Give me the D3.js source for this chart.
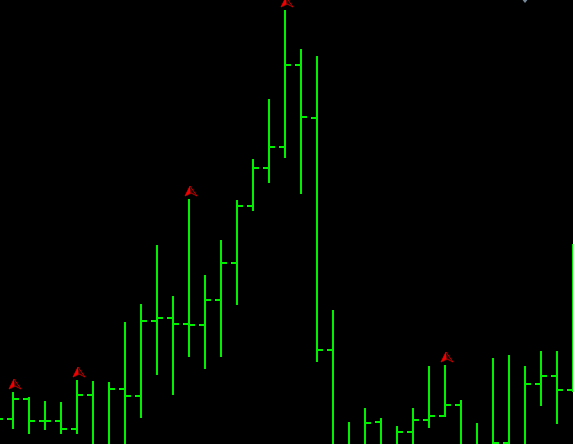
<!DOCTYPE html>
<html lang="en">
<head>
    <meta charset="UTF-8">
    <title>OHLC bars</title>
    <script src="https://d3js.org/d3.v7.min.js"></script>
    <style>
        html, body { margin: 0; padding: 0; background: #000; overflow: hidden; }
        svg { display: block; }
    </style>
</head>
<body>
    <div id="chart"></div>
    <script>
        // values, in chart units (0 = bottom edge), first bar sits off screen
        const opens = [30, 25, 45, 23, 23, 15, 49, -5, 55, 48, 123, 126, 120, 119, 144, 181, 238, 276, 297, 379, 326, 94, -12, -8, 22, -6, 12, 24, 28, 39, -5, -10, 1, -8, 60, 68, 54];
        const highs = [35, 52, 47, 43, 42, 64, 63, 62, 122, 140, 199, 148, 245, 169, 204, 244, 285, 345, 434, 395, 388, 134, 22, 36, 26, 18, 36, 78, 79, 44, 21, 86, 89, 78, 93, 93, 200];
        const lows = [5, 15, 10, 14, 10, 10, -30, -15, -25, 26, 69, 49, 87, 75, 87, 139, 233, 261, 286, 250, 82, -40, -20, -25, -15, -20, -10, 16, 27, -20, -15, -30, -25, -10, 38, 20, 52];
        const closes = [25, 45, 23, 23, 15, 49, -5, 55, 48, 123, 126, 120, 119, 144, 181, 238, 276, 297, 379, 327, 94, -12, -8, 21, -6, 12, 24, 28, 39, -5, -10, 1, -8, 60, 68, 54, 100];
        const upArrowBars = [1, 5, 12, 18, 28];
        const downArrowBars = [33];
        const downArrowValues = [442];

        const width = 573, height = 444;

        const x = d3.scaleLinear().domain([0, 36]).range([-3, 573]);
        const y = d3.scaleLinear().domain([0, 444]).range([444, 0]);

        const svg = d3.select("#chart").append("svg")
            .attr("width", width)
            .attr("height", height)
            .style("background", "#000");

        const bars = svg.selectAll(".bar")
            .data(highs.map((d, i) => i))
            .enter().append("g")
            .attr("class", "bar")
            .attr("fill", "#00f000")
            .attr("shape-rendering", "crispEdges");

        bars.append("rect")
            .attr("x", i => x(i) - 1)
            .attr("width", 2)
            .attr("y", i => y(highs[i]))
            .attr("height", i => y(lows[i]) - y(highs[i]));

        // open tick on the left, close tick on the right
        bars.append("rect")
            .attr("x", i => x(i) - 6)
            .attr("width", 6)
            .attr("y", i => y(opens[i]) - 1)
            .attr("height", 2);

        bars.append("rect")
            .attr("x", i => x(i))
            .attr("width", 6)
            .attr("y", i => y(closes[i]) - 1)
            .attr("height", 2);

        // red fractal arrows above the highs
        const up = svg.selectAll(".up")
            .data(upArrowBars)
            .enter().append("g")
            .attr("class", "up")
            .attr("transform", i => `translate(${x(i)},${y(highs[i])})`);

        up.append("path")
            .attr("d", "M1,-13 L8,-3 L2,-6 L-4,-3 Z")
            .attr("fill", "#200000")
            .attr("stroke", "#e00000")
            .attr("stroke-width", 0.8);

        up.append("path")
            .attr("d", "M1,-13 L1.5,-6 L-4,-3 Z")
            .attr("fill", "#f00000");

        // grey marker clipped by the top edge
        svg.selectAll(".down")
            .data(downArrowBars)
            .enter().append("path")
            .attr("class", "down")
            .attr("d", (i, k) => `M${x(i) - 4},${y(downArrowValues[k]) - 4} L${x(i) + 4},${y(downArrowValues[k]) - 4} L${x(i)},${y(downArrowValues[k]) + 1} Z`)
            .attr("fill", "#778899");
    </script>
</body>
</html>
